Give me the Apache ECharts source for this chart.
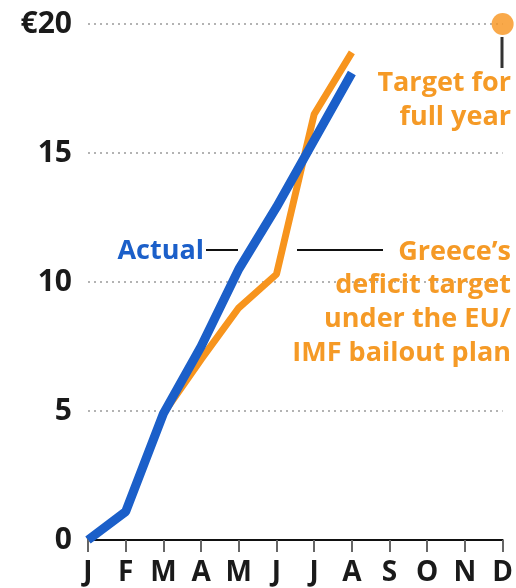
<!DOCTYPE html>
<html>
<head>
<meta charset="utf-8">
<script src="https://cdn.jsdelivr.net/npm/echarts@6/dist/echarts.min.js"></script>
<style>
html,body{margin:0;padding:0;background:#fff;}
#chart{width:516px;height:588px;}
#err{position:absolute;left:100px;top:420px;width:400px;font:12px sans-serif;color:red;}
</style>
</head>
<body>
<div id="chart"></div>
<div id="err"></div>
<script>
window.onerror = function (msg) { document.getElementById('err').textContent += ' ' + msg; };
const months = ['J','F','M','A','M','J','J','A','S','O','N','D'];
const actual = [0, 1.1, 4.9, 7.5, 10.5, 12.9, 15.5, 18.1, null, null, null, null];
const target = [0, 1.1, 4.9, 7.0, 9.0, 10.3, 16.5, 18.9, null, null, null, null];
const fullYearTarget = [[11, 20]];
const yTickLabels = ['0', '5', '10', '15', '€20'];

const BLUE = '#1b5fc9';
const ORANGE = '#f7941d';
const LABEL_ORANGE = '#f59a26';
const FONT = '"Open Sans", "Noto Sans", sans-serif';

const chart = echarts.init(document.getElementById('chart'));

function txt(text, x, y, color) {
  return {
    type: 'text', x: x, y: y,
    style: {text: text, fill: color, font: 'bold 27px ' + FONT, textAlign: 'right', textVerticalAlign: 'middle'},
    z: 10
  };
}

try {
chart.setOption({
  animation: false,
  backgroundColor: '#fff',
  grid: {left: 88, right: 12, top: 24, bottom: 48},
  xAxis: {
    type: 'category',
    data: months,
    boundaryGap: false,
    axisLine: {lineStyle: {color: '#111', width: 2}},
    axisTick: {show: true, length: 12, lineStyle: {color: '#666', width: 2}},
    axisLabel: {color: '#1a1a1a', fontFamily: FONT, fontWeight: 'bold', fontSize: 28, margin: 19},
    splitLine: {show: false}
  },
  yAxis: {
    type: 'value',
    min: 0, max: 20, interval: 5,
    axisLine: {show: false},
    axisTick: {show: false},
    axisLabel: {
      color: '#1a1a1a', fontFamily: FONT, fontWeight: 'bold', fontSize: 30, margin: 16,
      formatter: function (v) {
        const s = yTickLabels[Math.round(v / 5)];
        return s === undefined ? String(v) : s;
      }
    },
    splitLine: {show: true, lineStyle: {color: '#9a9a9a', width: 1.5, type: [2, 4]}}
  },
  series: [
    {
      name: 'Target', type: 'line', data: target, showSymbol: false, symbol: 'none',
      lineStyle: {color: ORANGE, width: 7}, z: 3
    },
    {
      name: 'Actual', type: 'line', data: actual, showSymbol: false, symbol: 'none',
      lineStyle: {color: BLUE, width: 9}, z: 4
    },
    {
      name: 'Full year', type: 'scatter', data: fullYearTarget, symbol: 'circle', symbolSize: 22,
      itemStyle: {color: ORANGE}, z: 5
    }
  ]
});
chart.setOption({
  graphic: [
    {type: 'line', shape: {x1: 502, y1: 37, x2: 502, y2: 68}, style: {stroke: '#333', lineWidth: 3}},
    txt('Target for', 511, 83, LABEL_ORANGE),
    txt('full year', 511, 117, LABEL_ORANGE),
    txt('Actual', 204, 251, BLUE),
    {type: 'line', shape: {x1: 206, y1: 250, x2: 238, y2: 250}, style: {stroke: '#111', lineWidth: 2}},
    {type: 'line', shape: {x1: 297, y1: 250, x2: 383, y2: 250}, style: {stroke: '#111', lineWidth: 2}},
    txt('Greece\u2019s', 511, 252, LABEL_ORANGE),
    txt('deficit target', 511, 285, LABEL_ORANGE),
    txt('under the EU/', 511, 319, LABEL_ORANGE),
    txt('IMF bailout plan', 511, 353, LABEL_ORANGE)
  ]
});
} catch (e) { document.getElementById('err').textContent += ' ' + e.message; }
</script>
</body>
</html>
